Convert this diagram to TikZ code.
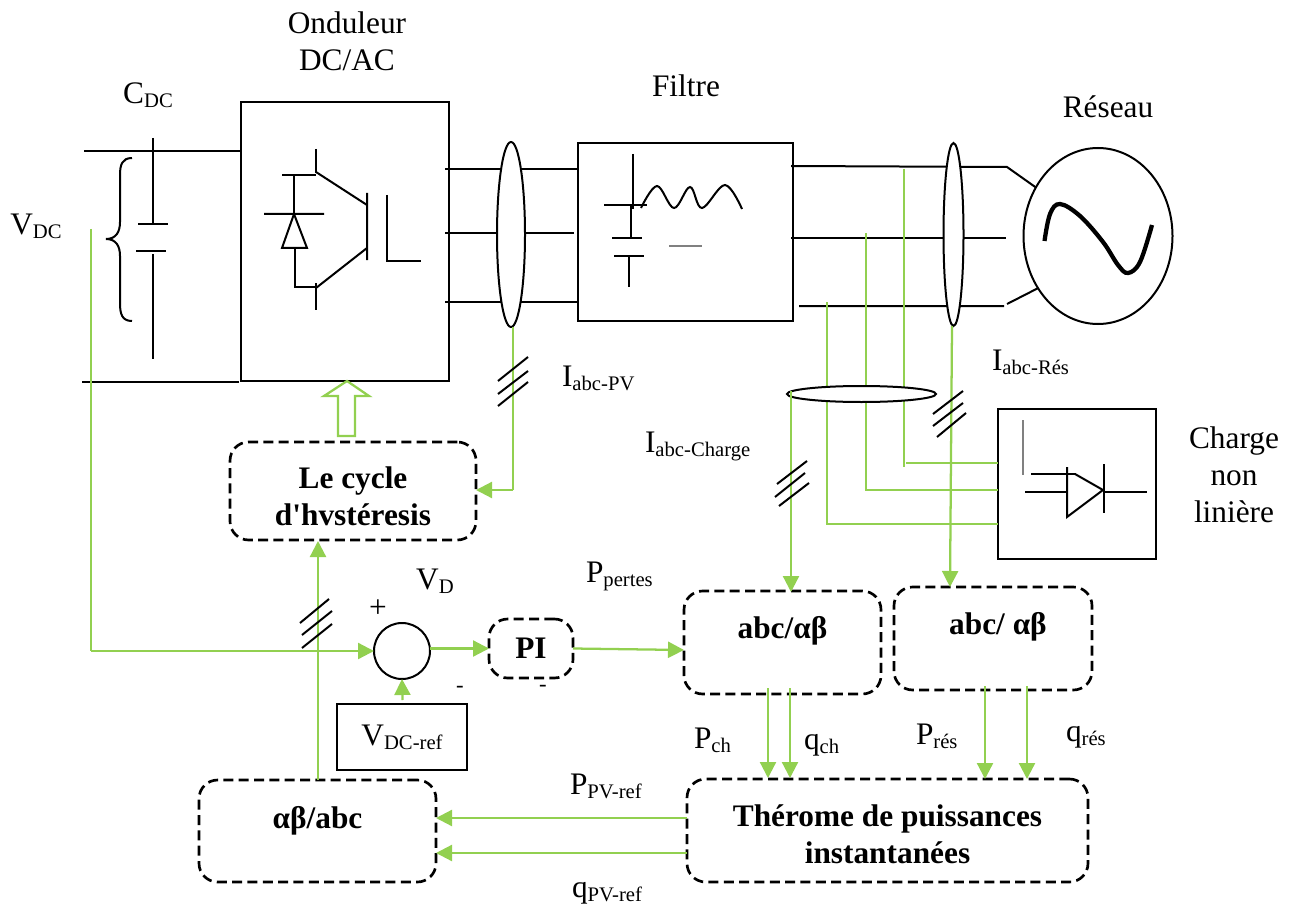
\documentclass[tikz,border=0pt]{standalone}
\usepackage{fontspec}
\setmainfont{Liberation Serif}
\newfontfamily\droite{Liberation Serif}[Ligatures=ResetAll]
\usetikzlibrary{shapes.geometric, arrows.meta, positioning, calc}
\usepackage{xcolor}
\definecolor{mesure}{HTML}{92D050}
\newcommand{\lowtxt}[1]{\raisebox{-3pt}{\fontsize{15.5}{16}\selectfont #1}}

\begin{document}
\begin{tikzpicture}[
    x=0.75pt, y=-0.75pt,
    every node/.style={font=\fontsize{23.5}{27.75}\selectfont, inner sep=0pt, outer sep=0pt},
    blk/.style={draw, line width=1.6pt, minimum width=#1},
    ctl/.style={draw, dashed, line width=2pt, rounded corners=14pt, align=center,
                font=\fontsize{23.5}{27.75}\selectfont\bfseries, dash pattern=on 7.5pt off 4pt},
    ring/.style={draw, ellipse, line width=1.5pt, fill=white},
    wire/.style={line width=1.5pt},
    mes/.style={draw=mesure, line width=1.7pt},
    arr/.style={mes, -{Triangle[length=12pt, width=12pt, fill=mesure]}},
    tiret/.style={font=\fontsize{17}{20}\selectfont}
]
    \useasboundingbox (0, 0) rectangle (1298, 909);

    \node[blk=156pt, minimum height=209.25pt] (ond) at (345, 241.5) {};
    \node[blk=161.25pt, minimum height=133.5pt] (fil) at (685.5, 232) {};
    \node[blk=118.5pt, minimum height=112.5pt] (chg) at (1077, 484) {};
    \node[draw, ellipse, line width=1.5pt, minimum width=111.75pt, minimum height=132pt] (res) at (1098, 236) {};
    \node[blk=97.5pt, minimum height=49.5pt, text depth=2pt] (vref) at (402, 737) {V\lowtxt{DC-ref}};
    \node[draw, circle, line width=1.5pt, minimum size=42pt] (sum) at (402, 651) {};

    \node[ctl, minimum width=184.5pt, minimum height=73.5pt] (hyst) at (353, 491) {\rule{0pt}{23.5pt}Le cycle\\d{\droite\symbol{39}}hvstéresis};
    \node[ctl, minimum width=147.75pt, minimum height=77.25pt, text height=17pt, text depth=23pt] (abc1) at (782.5, 642.5) {abc/αβ};
    \node[ctl, minimum width=148.5pt, minimum height=77.25pt, text height=17pt, text depth=23pt] (abc2) at (993, 638.5) {\hspace*{7.5pt}abc/ αβ};
    \node[ctl, minimum width=63pt, minimum height=44.25pt] (pi) at (531, 648.5) {PI};
    \node[ctl, minimum width=177.75pt, minimum height=76.5pt, text height=17pt, text depth=21pt] (ab) at (317.5, 831) {αβ/abc};
    \node[ctl, minimum width=300.75pt, minimum height=77.25pt] (thp) at (887.5, 830.5) {\rule{0pt}{22.5pt}Thérome de puissances\\instantanées};

    \coordinate (dc1) at (84, 151);
    \coordinate (dc2) at (82, 382);
    \draw[wire] (dc1) -- (dc1 -| ond.west);
    \draw[wire] (dc2) -- (239, 382);
    \draw[wire] (153, 138) -- (153, 224) (138, 224) -- (168, 224);
    \draw[wire] (136, 251) -- (166, 251) (153, 254) -- (153, 359);
    \draw[wire] (132, 158) .. controls (122, 158) and (120, 165) .. (120, 175) -- (120, 222)
        .. controls (120, 232) and (116, 239) .. (106, 239) .. controls (116, 239) and (120, 246) .. (120, 256)
        -- (120, 303) .. controls (120, 314) and (122, 321) .. (132, 321);

    \draw[wire] (316, 149) -- (316, 173) (282, 175) -- (316, 175) (294, 175) -- (294, 214);
    \draw[wire] (264, 214) -- (324, 214) (294, 214) -- (282, 248) -- (307, 248) -- cycle;
    \draw[wire] (295, 248) -- (295, 287) -- (316, 287) (316, 283) -- (316, 310);
    \draw[wire] (316, 172) -- (367, 205) (316, 288) -- (367, 248) (367, 193) -- (367, 260);
    \draw[wire] (387, 195) -- (387, 261) -- (421, 261);

    \coordinate (o1) at (445, 169);
    \coordinate (o2) at (445, 233);
    \coordinate (o3) at (445, 302);
    \draw[wire] (o1) -- (o1 -| fil.west);
    \draw[wire] (o2) -- (574, 233);
    \draw[wire] (o3) -- (o3 -| fil.west);
    \node[ring, minimum width=21pt, minimum height=138.75pt] (ipv) at (511, 234.5) {};

    \draw[wire] (633, 154) -- (633, 209) (604, 205) -- (647, 205) (631, 205) -- (631, 237);
    \draw[wire] (612, 238) -- (642, 238) (614, 256) -- (644, 256) (629, 256) -- (629, 287);
    \draw[wire, gray] (669, 246) -- (702, 246);
    \draw[wire] plot[smooth, tension=0.6] coordinates {(641, 208) (657, 186) (674, 208) (690, 187) (702, 208) (725, 185) (742, 209)};

    \coordinate (f1) at (791, 166);
    \coordinate (f2) at (791, 238);
    \coordinate (f3) at (799, 306);
    \coordinate (r1) at (1007, 167);
    \coordinate (r3) at (1004, 306);
    \draw[wire] (f1) -- (r1) -- (res.142);
    \draw[wire] (f2) -- (1006, 238);
    \draw[wire] (f3) -- (r3) (1007, 304) -- (res.221);
    \draw[line width=3.2pt] plot[smooth, tension=0.6] coordinates {(1044.5, 241) (1050, 214) (1060, 204) (1080, 216) (1103, 242) (1118, 265) (1128, 273) (1140, 262) (1152, 225)};

    \coordinate (tap1) at (827, 302);
    \coordinate (tap2) at (866, 233);
    \coordinate (tap3) at (904, 169);
    \draw[mes] (tap1) |- (tap1 |- 0, 524) -- (chg.west |- 0, 524);
    \draw[mes] (tap2) |- (tap2 |- 0, 490) -- (chg.west |- 0, 490);
    \draw[mes] (tap3) -- (904, 467);
    \draw[mes] (906, 463) -- (chg.west |- 0, 463);
    \node[ring, minimum width=111.75pt, minimum height=12pt] (ich) at (861.5, 394) {};
    \node[ring, minimum width=15pt, minimum height=137.25pt] (ires) at (953.5, 234.5) {};

    \draw[wire, gray] (1023, 420) -- (1023, 475);
    \draw[wire] (1031, 474) -- (1076, 474) (1025, 492) -- (1067, 492);
    \draw[wire] (1067, 467) -- (1067, 517) -- (1103, 490) -- (1075, 474);
    \draw[wire] (1104, 464) -- (1104, 513) (1104, 492) -- (1147, 492);

    \coordinate (vdc) at (91, 229);
    \coordinate (vdc2) at (91, 651);
    \coordinate (hf) at (513, 490);
    \draw[mes] (vdc) -- (vdc2);
    \draw[arr] (vdc2) -- (sum.west);
    \draw[arr] (sum.east |- pi.west) -- (pi.west);
    \draw[arr] (402.5, 700) -- (sum.south);
    \draw[arr] (pi.east) -- (abc1.west |- 0, 650);
    \draw[arr] (318, 780) -- (318, 541);
    \draw[mes] (513, 327) -- (hf);
    \draw[arr] (hf) -- (hyst.east |- hf);
    \draw[arr] (791, 391) -- (791, 592);
    \draw[arr] (952, 326) -- (950, 587);
    \draw[arr] (768, 688) -- (768, 778);
    \draw[arr] (790, 688) -- (790, 778);
    \draw[arr] (985, 686) -- (985, 779);
    \draw[arr] (1027, 686) -- (1027, 779);
    \draw[arr] (thp.west |- 0, 818) -- (ab.east |- 0, 818);
    \draw[arr] (thp.west |- 0, 853) -- (ab.east |- 0, 853);
    \draw[mes, fill=white] (338, 436) -- (338, 396) -- (324, 396) -- (347, 381) -- (369, 396) -- (355, 396) -- (355, 436) -- cycle;

    \draw[wire] (498, 381) -- (528, 357) (498, 394) -- (528, 371) (498, 406) -- (528, 382);
    \draw[wire] (777, 484) -- (807, 461) (775, 497) -- (805, 473) (779, 506) -- (809, 483);
    \draw[wire] (933, 414) -- (963, 391) (933, 426) -- (963, 403) (937, 437) -- (966, 413);
    \draw[wire] (300, 623) -- (329, 599) (302, 635) -- (332, 611) (302, 648) -- (332, 624);

    \node (tond) at (347, 23) {Onduleur};
    \node (tdc) at (347, 60) {DC/AC};
    \node (tcdc) at (148, 95) {C\lowtxt{DC}};
    \node (tfil) at (686, 86) {Filtre};
    \node (tres) at (1108, 107) {Réseau};
    \node (tvdc) at (36, 226) {V\lowtxt{DC}};
    \node[anchor=west] (tipv) at (562, 378) {I\lowtxt{abc-PV}};
    \node[anchor=west] (tires) at (992, 362) {I\lowtxt{abc-Rés}};
    \node[anchor=west] (tich) at (645, 446) {I\lowtxt{abc-Charge}};
    \node[align=center] (tchg) at (1234, 475) {Charge\\non\\linière};
    \node (tvd) at (435, 581) {V\lowtxt{D}};
    \node (tplus) at (378, 609) {+};
    \node[tiret] (tmoins) at (460, 689) {-};
    \node[tiret] (tmoinb) at (543, 688) {-};
    \node[anchor=west] (tper) at (586, 576) {P\lowtxt{pertes}};
    \node[anchor=west] (tpch) at (694, 740) {P\lowtxt{ch}};
    \node[anchor=west] (tqch) at (804, 745) {q\lowtxt{ch}};
    \node[anchor=west] (tpres) at (916, 736) {P\lowtxt{rés}};
    \node[anchor=west] (tqres) at (1066, 737) {q\lowtxt{rés}};
    \node[anchor=west] (tppv) at (570, 786) {P\lowtxt{PV-ref}};
    \node[anchor=west] (tqpv) at (572, 893) {q\lowtxt{PV-ref}};
\end{tikzpicture}
\end{document}
